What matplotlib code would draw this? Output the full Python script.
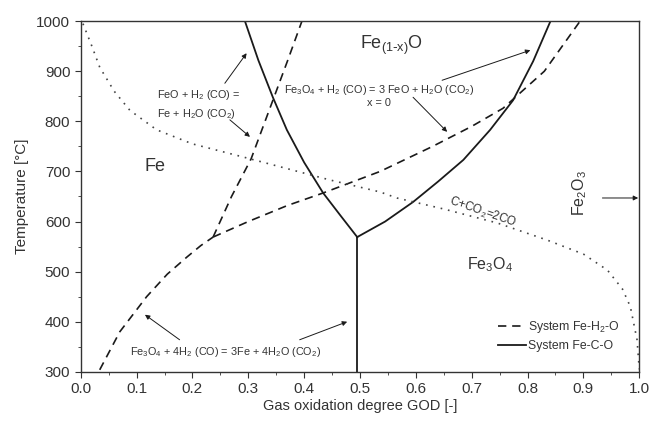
import numpy as np
import matplotlib
matplotlib.use('Agg')
import matplotlib.pyplot as plt

plt.rcParams['font.family'] = ['Liberation Sans', 'DejaVu Sans']
plt.rcParams['mathtext.default'] = 'regular'

# System Fe-H2-O (dashed)
h2_low_x = [0.034, 0.07, 0.118, 0.155, 0.190, 0.215, 0.237]
h2_low_t = [304, 380, 450, 495, 529, 552, 569]
h2_feo_x = [0.237, 0.270, 0.305, 0.344, 0.370, 0.396]
h2_feo_t = [569, 650, 725, 842, 920, 1000]
h2_mag_x = [0.237, 0.30, 0.37, 0.434, 0.536, 0.63, 0.70, 0.756, 0.83, 0.894]
h2_mag_t = [569, 600, 632, 657, 700, 750, 790, 826, 900, 1000]

# System Fe-C-O (solid)
c_feo_x = [0.495, 0.465, 0.434, 0.400, 0.369, 0.344, 0.318, 0.294]
c_feo_t = [569, 612, 657, 718, 783, 848, 922, 1000]
c_mag_x = [0.495, 0.545, 0.595, 0.640, 0.685, 0.733, 0.774, 0.810, 0.841]
c_mag_t = [569, 600, 639, 680, 723, 783, 842, 920, 1000]
c_vert_x = [0.495, 0.495]
c_vert_t = [300, 569]

# Boudouard equilibrium (dotted)
bd_x = [0.004, 0.02, 0.034, 0.06, 0.088, 0.136, 0.2, 0.297, 0.446, 0.536,
        0.566, 0.65, 0.746, 0.835, 0.9, 0.943, 0.97, 0.984, 0.996, 1.0]
bd_t = [995, 950, 908, 860, 822, 783, 755, 727, 683, 659,
        647, 625, 597, 563, 535, 503, 465, 430, 364, 305]

xticks = [0.0, 0.1, 0.2, 0.3, 0.4, 0.5, 0.6, 0.7, 0.8, 0.9, 1.0]
yticks = [300, 400, 500, 600, 700, 800, 900, 1000]

ink = '#1a1a1a'
txt = '#333333'

fig = plt.figure(figsize=(6.51, 4.23), dpi=100)
ax = fig.add_axes([0.124, 0.121, 0.858, 0.829])

dash = dict(color=ink, lw=1.2, ls=(0, (5, 3.5)))
ax.plot(h2_low_x, h2_low_t, label='System Fe-H$_2$-O', **dash)
ax.plot(h2_feo_x, h2_feo_t, **dash)
ax.plot(h2_mag_x, h2_mag_t, **dash)

solid = dict(color=ink, lw=1.3)
ax.plot(c_feo_x, c_feo_t, label='System Fe-C-O', **solid)
ax.plot(c_mag_x, c_mag_t, **solid)
ax.plot(c_vert_x, c_vert_t, **solid)

ax.plot(bd_x, bd_t, color='#444444', lw=1.2, ls=(0, (1, 3.5)))

ax.set_xlim(0, 1.0)
ax.set_ylim(300, 1000)
ax.set_xticks(xticks)
ax.set_yticks(yticks)
ax.set_xticks(np.arange(0.05, 1.0, 0.1), minor=True)
ax.set_yticks(np.arange(350, 1000, 100), minor=True)
ax.tick_params(which='major', direction='out', length=4, labelsize=11, colors='#333333')
ax.tick_params(which='minor', direction='out', length=2.5, color='#333333')
for s in ax.spines.values():
    s.set_color('#333333')
    s.set_linewidth(1.0)
ax.set_xlabel('Gas oxidation degree GOD [-]', fontsize=10.5, color=txt, labelpad=2)
ax.set_ylabel('Temperature [°C]', fontsize=11, color=txt, labelpad=5)

# phase labels
ax.text(0.5, 952, r'Fe$_{(1\text{-}x)}$O', fontsize=13, color=txt, ha='left', va='center')
ax.text(0.133, 709, 'Fe', fontsize=13, color=txt, ha='center', va='center')
ax.text(0.733, 513, 'Fe$_3$O$_4$', fontsize=11.5, color=txt, ha='center', va='center')
ax.text(0.894, 657, 'Fe$_2$O$_3$', fontsize=11.5, color=txt, ha='center', va='center', rotation=90)
ax.text(0.720, 619, 'C+CO$_2$=2CO', fontsize=8.5, color=txt, ha='center', va='center', rotation=-19)

# reaction labels
ax.text(0.136, 834, 'FeO + H$_2$ (CO) =\nFe + H$_2$O (CO$_2$)', fontsize=7.8, color=txt,
        ha='left', va='center', linespacing=1.5)
ax.text(0.534, 852, 'Fe$_3$O$_4$ + H$_2$ (CO) = 3 FeO + H$_2$O (CO$_2$)\nx = 0', fontsize=7.8,
        color=txt, ha='center', va='center', linespacing=1.1)
ax.text(0.26, 340, 'Fe$_3$O$_4$ + 4H$_2$ (CO) = 3Fe + 4H$_2$O (CO$_2$)', fontsize=7.8,
        color=txt, ha='center', va='center')

arrows = [
    ((0.258, 876), (0.297, 936)),
    ((0.267, 803), (0.303, 769)),
    ((0.647, 882), (0.805, 942)),
    ((0.595, 848), (0.656, 779)),
    ((0.177, 364), (0.115, 414)),
    ((0.392, 364), (0.477, 400)),
    ((0.934, 647), (0.998, 647)),
]
for start, end in arrows:
    ax.annotate('', xy=end, xytext=start,
                arrowprops=dict(arrowstyle='-|>', color=ink, lw=0.7,
                                mutation_scale=7, shrinkA=0, shrinkB=0))

ax.legend(loc='lower right', bbox_to_anchor=(0.985, 0.025), frameon=False,
          fontsize=8.8, handlelength=2.3, handletextpad=0.15, labelspacing=0.4,
          labelcolor=txt)

fig.savefig('out.png', dpi=100)
